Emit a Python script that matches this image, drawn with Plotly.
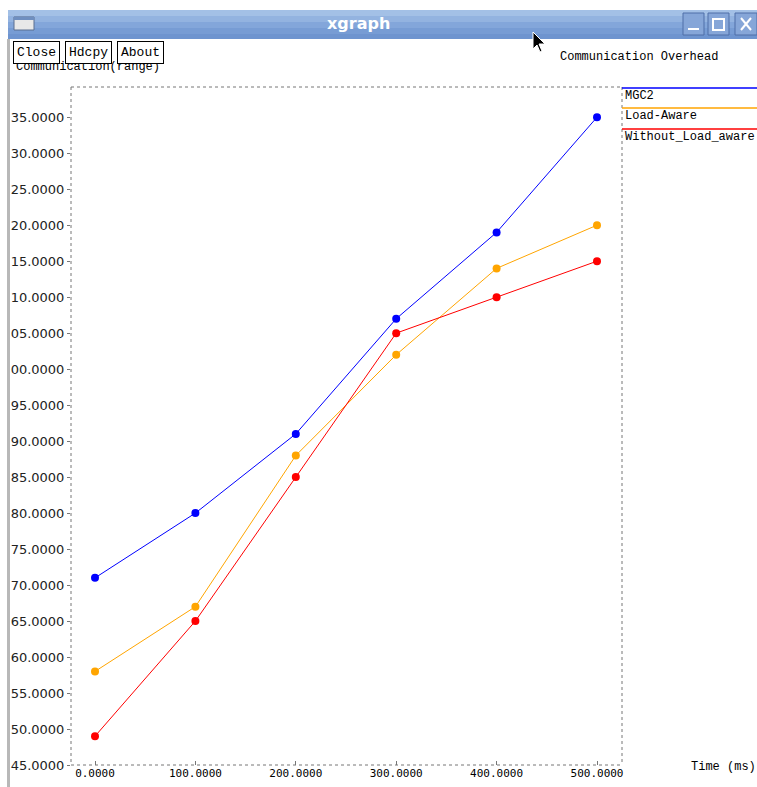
import plotly.graph_objects as go

times = [0, 100, 200, 300, 400, 500]
mgc2 = [71, 80, 91, 107, 119, 135]
load_aware = [58, 67, 88, 102, 114, 120]
without_load = [49, 65, 85, 105, 110, 115]

y_ticks = list(range(45, 140, 5))
y_ticktext = [(f"{v}.0000" if v < 100 else f".{v-100:02d}.0000") for v in y_ticks]
x_ticktext = [f"{v}.0000" for v in times]

series_names = ["MGC2", "Load-Aware", "Without_Load_aware"]
series_colors = ["#0000ff", "#ffa500", "#ff0000"]

W, H = 757, 787
L, R, T, B = 71, 622, 87, 765  # plot area pixels


def px(x):
    return (x - L) / (R - L)


def py(y):
    return (B - y) / (B - T)


fig = go.Figure()
for name, vals, col in zip(series_names, [mgc2, load_aware, without_load], series_colors):
    fig.add_trace(go.Scatter(x=times, y=vals, name=name, mode="lines+markers",
                             line=dict(color=col, width=1),
                             marker=dict(color=col, size=8)))

shapes = []
annos = []
# title bar bands (gradient approx)
bands = [("#a3c0e6", 10, 16), ("#93b3e0", 16, 22), ("#83a6da", 22, 28), ("#779cd4", 28, 34), ("#6e94cf", 34, 39)]
for c, y0, y1 in bands:
    shapes.append(dict(type="rect", xref="paper", yref="paper", x0=px(8), x1=px(757),
                       y0=py(y1), y1=py(y0), fillcolor=c, line=dict(width=0), layer="above"))
# window left border
shapes.append(dict(type="rect", xref="paper", yref="paper", x0=px(7), x1=px(10),
                   y0=py(787), y1=py(39), fillcolor="#b8b8b8", line=dict(width=0)))
# window icon
shapes.append(dict(type="rect", xref="paper", yref="paper", x0=px(14), x1=px(34),
                   y0=py(30), y1=py(17), fillcolor="#e8e8e8", line=dict(color="#5a6f90", width=1), layer="above"))
shapes.append(dict(type="rect", xref="paper", yref="paper", x0=px(14), x1=px(34),
                   y0=py(20), y1=py(17), fillcolor="#6f8fc0", line=dict(width=0), layer="above"))
# window controls
for x0, x1 in [(683, 704), (708, 729), (735, 757)]:
    shapes.append(dict(type="rect", xref="paper", yref="paper", x0=px(x0), x1=px(x1),
                       y0=py(35), y1=py(13), fillcolor="#86a6d8", line=dict(color="#4f6fa8", width=1), layer="above"))
shapes.append(dict(type="line", xref="paper", yref="paper", x0=px(688), x1=px(699),
                   y0=py(29), y1=py(29), line=dict(color="white", width=2), layer="above"))
shapes.append(dict(type="rect", xref="paper", yref="paper", x0=px(713), x1=px(724),
                   y0=py(30), y1=py(19), line=dict(color="white", width=2), layer="above"))
shapes.append(dict(type="line", xref="paper", yref="paper", x0=px(741), x1=px(751),
                   y0=py(30), y1=py(18), line=dict(color="white", width=2), layer="above"))
shapes.append(dict(type="line", xref="paper", yref="paper", x0=px(741), x1=px(751),
                   y0=py(18), y1=py(30), line=dict(color="white", width=2), layer="above"))
# mouse cursor
cx, cy = 533, 32
pts = [(0, 0), (0, 17), (4, 13), (7, 20), (9, 19), (6, 12), (12, 12)]
path = "M " + " L ".join(f"{px(cx+a)},{py(cy+b)}" for a, b in pts) + " Z"
shapes.append(dict(type="path", xref="paper", yref="paper", path=path,
                   fillcolor="black", line=dict(color="white", width=1), layer="above"))
# dotted plot frame
for (x0, y0, x1, y1) in [(L, T, R, T), (L, B, R, B), (L, T, L, B), (R, T, R, B)]:
    shapes.append(dict(type="line", xref="paper", yref="paper", x0=px(x0), x1=px(x1),
                       y0=py(y0), y1=py(y1), line=dict(color="#777777", width=1, dash="dot")))
# legend lines
for col, yy in zip(series_colors, [88, 108, 129]):
    shapes.append(dict(type="line", xref="paper", yref="paper", x0=px(622), x1=px(757),
                       y0=py(yy), y1=py(yy), line=dict(color=col, width=1.5)))

mono = "Liberation Mono"
# legend text
for name, yy in zip(series_names, [96, 116, 137]):
    annos.append(dict(text=name, xref="paper", yref="paper", x=px(623), y=py(yy),
                      xanchor="left", yanchor="middle", showarrow=False,
                      font=dict(family=mono, size=12, color="black")))
annos.append(dict(text="Communication Overhead", xref="paper", yref="paper", x=px(558), y=py(57),
                  xanchor="left", yanchor="middle", showarrow=False,
                  font=dict(family=mono, size=12, color="black")))
annos.append(dict(text="Time (ms)", xref="paper", yref="paper", x=px(689), y=py(767),
                  xanchor="left", yanchor="middle", showarrow=False,
                  font=dict(family=mono, size=12, color="black")))
annos.append(dict(text="Communication(range)", xref="paper", yref="paper", x=px(14), y=py(67),
                  xanchor="left", yanchor="middle", showarrow=False,
                  font=dict(family=mono, size=12, color="black")))
annos.append(dict(text="<b>xgraph</b>", xref="paper", yref="paper", x=px(358), y=py(24),
                  xanchor="center", yanchor="middle", showarrow=False,
                  font=dict(family="DejaVu Sans", size=16, color="white")))
# buttons
for label, x0 in [("Close", 13), ("Hdcpy", 65), ("About", 117)]:
    annos.append(dict(text=label, xref="paper", yref="paper", x=px(x0), y=py(52),
                      xanchor="left", yanchor="middle", showarrow=False,
                      bgcolor="white", bordercolor="black", borderwidth=1, borderpad=3,
                      font=dict(family=mono, size=13, color="black")))

fig.update_layout(
    width=W, height=H, autosize=False,
    margin=dict(l=L, r=W - R, t=T, b=H - B, pad=0),
    paper_bgcolor="white", plot_bgcolor="white",
    showlegend=False,
    shapes=shapes, annotations=annos,
    xaxis=dict(range=[-23.9, 524.9], tickvals=times, ticktext=x_ticktext,
               showgrid=False, zeroline=False, showline=False, automargin=False,
               ticks="inside", ticklen=4, tickcolor="#777777",
               tickfont=dict(family="DejaVu Sans Mono", size=11, color="black")),
    yaxis=dict(range=[45, 139.2], tickvals=y_ticks, ticktext=y_ticktext,
               showgrid=False, zeroline=False, showline=False, automargin=False,
               ticks="outside", ticklen=3, tickcolor="#777777",
               tickfont=dict(family="DejaVu Sans", size=13, color="#222222")),
)

fig.write_html("out.html", config={"displayModeBar": False},
               post_script="document.body.style.margin='0';document.body.style.overflow='hidden';")
